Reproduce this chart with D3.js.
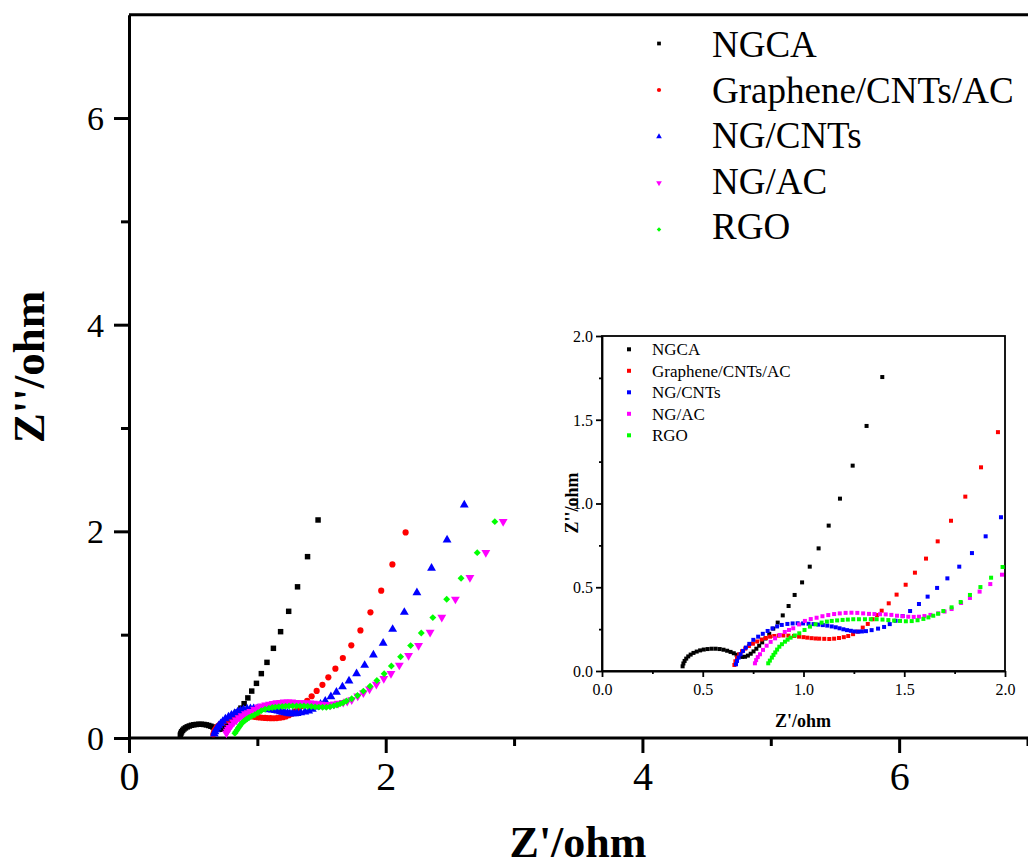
<!DOCTYPE html>
<html><head><meta charset="utf-8">
<script src="https://cdn.jsdelivr.net/npm/d3@7"></script>
<style>
body{margin:0;background:#fff}
text{font-family:"Liberation Serif","Times New Roman",serif;fill:#000}
</style>
</head><body>
<svg id="chart" width="1028" height="866"></svg>
<script>
// ---------- data ----------
const seriesNames  = ["NGCA","Graphene/CNTs/AC","NG/CNTs","NG/AC","RGO"];
const seriesColors = ["#000000","#ff0000","#0000ff","#ff00ff","#00ff00"];
const seriesShapes = ["square","circle","triangle","triangleDown","diamond"];

const ngca = [[0.400,0.028],[0.404,0.045],[0.410,0.060],[0.418,0.074],[0.428,0.087],[0.440,0.098],[0.454,0.108],[0.470,0.116],[0.487,0.123],[0.505,0.128],[0.524,0.131],[0.544,0.133],[0.564,0.133],[0.584,0.131],[0.603,0.127],[0.621,0.121],[0.638,0.114],[0.654,0.106],[0.668,0.097],[0.682,0.089],[0.696,0.084],[0.710,0.085],[0.724,0.092],[0.738,0.103],[0.752,0.117],[0.766,0.133],[0.780,0.151],[0.795,0.171],[0.811,0.194],[0.830,0.222],[0.850,0.253],[0.872,0.289],[0.897,0.332],[0.926,0.388],[0.956,0.454],[0.993,0.529],[1.031,0.623],[1.075,0.732],[1.125,0.868],[1.181,1.029],[1.244,1.226],[1.313,1.463],[1.391,1.755],[1.473,2.110]];

const grapheneCntsAc = [[0.657,0.036],[0.662,0.058],[0.670,0.080],[0.681,0.100],[0.695,0.118],[0.711,0.134],[0.729,0.149],[0.749,0.163],[0.770,0.176],[0.792,0.188],[0.813,0.197],[0.834,0.205],[0.855,0.209],[0.877,0.211],[0.900,0.212],[0.925,0.211],[0.953,0.209],[0.978,0.205],[1.000,0.202],[1.019,0.199],[1.040,0.196],[1.060,0.194],[1.078,0.193],[1.103,0.192],[1.128,0.191],[1.152,0.193],[1.176,0.197],[1.200,0.202],[1.222,0.209],[1.246,0.220],[1.269,0.235],[1.294,0.259],[1.319,0.281],[1.343,0.309],[1.365,0.334],[1.388,0.360],[1.423,0.404],[1.462,0.456],[1.507,0.515],[1.553,0.587],[1.608,0.671],[1.666,0.774],[1.732,0.897],[1.803,1.041],[1.881,1.216],[1.965,1.426],[2.052,1.680],[2.155,1.990]];

const ngCnts = [[0.665,0.040],[0.670,0.060],[0.678,0.080],[0.688,0.100],[0.700,0.120],[0.714,0.140],[0.731,0.162],[0.751,0.186],[0.775,0.205],[0.798,0.222],[0.822,0.239],[0.846,0.254],[0.869,0.266],[0.892,0.275],[0.920,0.281],[0.946,0.284],[0.971,0.285],[0.998,0.284],[1.025,0.282],[1.050,0.280],[1.074,0.277],[1.096,0.274],[1.118,0.271],[1.140,0.266],[1.160,0.261],[1.179,0.255],[1.198,0.249],[1.216,0.244],[1.235,0.240],[1.253,0.236],[1.272,0.235],[1.290,0.236],[1.310,0.238],[1.338,0.244],[1.370,0.253],[1.400,0.263],[1.428,0.280],[1.457,0.300],[1.492,0.328],[1.529,0.358],[1.573,0.400],[1.616,0.444],[1.663,0.496],[1.714,0.553],[1.773,0.623],[1.836,0.704],[1.904,0.804],[1.980,0.918],[2.054,1.052],[2.145,1.217],[2.243,1.407],[2.357,1.643],[2.478,1.917],[2.612,2.256]];

const ngAc = [[0.759,0.046],[0.765,0.065],[0.773,0.083],[0.784,0.100],[0.799,0.126],[0.817,0.151],[0.837,0.174],[0.859,0.195],[0.882,0.215],[0.907,0.233],[0.928,0.245],[0.949,0.255],[0.978,0.278],[1.007,0.299],[1.036,0.310],[1.065,0.318],[1.094,0.327],[1.123,0.334],[1.152,0.340],[1.180,0.344],[1.209,0.347],[1.238,0.348],[1.267,0.347],[1.296,0.344],[1.325,0.341],[1.352,0.340],[1.380,0.339],[1.408,0.338],[1.436,0.335],[1.464,0.330],[1.492,0.327],[1.520,0.324],[1.547,0.323],[1.573,0.324],[1.600,0.328],[1.630,0.335],[1.669,0.344],[1.700,0.355],[1.735,0.370],[1.782,0.406],[1.826,0.436],[1.874,0.474],[1.927,0.519],[1.985,0.575],[2.041,0.623],[2.106,0.704],[2.178,0.797],[2.256,0.894],[2.346,1.023],[2.437,1.168],[2.543,1.343],[2.656,1.552],[2.780,1.794],[2.915,2.094]];

const rgo = [[0.825,0.046],[0.833,0.062],[0.843,0.080],[0.851,0.096],[0.860,0.111],[0.869,0.128],[0.880,0.145],[0.893,0.160],[0.908,0.175],[0.921,0.187],[0.936,0.199],[0.957,0.212],[0.979,0.225],[1.005,0.245],[1.032,0.265],[1.060,0.279],[1.090,0.289],[1.116,0.295],[1.140,0.299],[1.167,0.302],[1.194,0.305],[1.220,0.307],[1.247,0.309],[1.275,0.309],[1.305,0.309],[1.334,0.309],[1.363,0.309],[1.392,0.307],[1.421,0.304],[1.450,0.301],[1.479,0.299],[1.508,0.297],[1.537,0.298],[1.566,0.303],[1.595,0.311],[1.620,0.320],[1.644,0.330],[1.668,0.342],[1.694,0.358],[1.735,0.380],[1.780,0.412],[1.826,0.454],[1.878,0.501],[1.931,0.557],[1.988,0.621],[2.044,0.697],[2.116,0.787],[2.194,0.894],[2.277,1.016],[2.367,1.165],[2.475,1.343],[2.587,1.546],[2.713,1.794],[2.850,2.094]];

const seriesData = [ngca, grapheneCntsAc, ngCnts, ngAc, rgo];

const mainTicks  = [0,2,4,6];
const mainXMinor = [1,3,5,7];
const mainYMinor = [1,3,5];
const insetTicks = [0,0.5,1.0,1.5,2.0];
const insetMinor = [0.25,0.75,1.25,1.75];
const mainXTitle = "Z'/ohm", mainYTitle = "Z''/ohm";

// ---------- helpers ----------
const svg = d3.select("#chart");
function symbolPath(shape, size){
  if (shape==="circle") return d3.symbol(d3.symbolCircle, size)();
  if (shape==="triangle" || shape==="triangleDown") return d3.symbol(d3.symbolTriangle, size)();
  return d3.symbol(d3.symbolSquare, size)();
}
function symbolRot(shape){
  if (shape==="triangleDown") return " rotate(180)";
  if (shape==="diamond") return " rotate(45)";
  return "";
}
function styleAxis(g, w){
  g.select(".domain").attr("stroke","#000").attr("stroke-width",w);
  g.selectAll(".tick line").attr("stroke","#000").attr("stroke-width",w);
  g.selectAll("text").attr("fill","#000").attr("font-family","Liberation Serif, serif");
}

// ---------- main plot ----------
const x = d3.scaleLinear().domain([0,7]).range([129,1027.5]);
const y = d3.scaleLinear().domain([0,7]).range([738,14.7]);

// top frame line
svg.append("line").attr("x1",x(0)).attr("x2",1030).attr("y1",y(7)).attr("y2",y(7))
  .attr("stroke","#000").attr("stroke-width",3);

// minor ticks
svg.append("g").attr("transform",`translate(0,${y(0)})`)
  .call(d3.axisBottom(x).tickValues(mainXMinor).tickSize(8).tickFormat(""))
  .call(g=>{styleAxis(g,3); g.select(".domain").remove();});
svg.append("g").attr("transform",`translate(${x(0)},0)`)
  .call(d3.axisLeft(y).tickValues(mainYMinor).tickSize(8).tickFormat(""))
  .call(g=>{styleAxis(g,3); g.select(".domain").remove();});

const xAxis = svg.append("g").attr("transform",`translate(0,${y(0)})`)
  .call(d3.axisBottom(x).tickValues(mainTicks).tickSize(15).tickSizeOuter(0).tickPadding(10).tickFormat(d3.format("d")))
  .call(g=>styleAxis(g,3));
xAxis.select(".domain").attr("d",`M${x(0)},0H1030`);
xAxis.selectAll("text").attr("font-size",40).attr("dy","0.68em");

const yAxis = svg.append("g").attr("transform",`translate(${x(0)},0)`)
  .call(d3.axisLeft(y).tickValues(mainTicks).tickSize(15).tickSizeOuter(0).tickPadding(10).tickFormat(d3.format("d")))
  .call(g=>styleAxis(g,3));
yAxis.selectAll("text").attr("font-size",34).attr("dy","0.34em");

// axis titles
svg.append("text").attr("x",578).attr("y",857).attr("text-anchor","middle")
  .attr("font-size",44).attr("font-weight","bold").text(mainXTitle);
svg.append("text").attr("transform","translate(44,367) rotate(-90)").attr("text-anchor","middle")
  .attr("font-size",45).attr("font-weight","bold").text(mainYTitle);

// data points
seriesData.forEach((data,i)=>{
  const shape = seriesShapes[i];
  const size = shape==="diamond" ? 24 : (shape==="circle" ? 30 : (shape==="square"?30:34));
  svg.append("g").selectAll("path").data(data).join("path")
    .attr("d", symbolPath(shape,size))
    .attr("transform", d=>`translate(${x(d[0])},${y(d[1])})${symbolRot(shape)}`)
    .attr("fill", seriesColors[i]);
});

// main legend
const leg = svg.append("g");
seriesNames.forEach((name,i)=>{
  const shape = seriesShapes[i];
  leg.append("path").attr("d", symbolPath(shape, shape==="diamond"?10:14))
    .attr("transform",`translate(659,${43.5+46.5*i})${symbolRot(shape)}`)
    .attr("fill",seriesColors[i]);
  leg.append("text").attr("x",712).attr("y",57+45.5*i).attr("font-size",37).text(name);
});

// ---------- inset ----------
const ix = d3.scaleLinear().domain([0,2]).range([602,1005]);
const iy = d3.scaleLinear().domain([0,2]).range([671,336]);

svg.append("rect").attr("x",ix(0)).attr("y",iy(2)).attr("width",ix(2)-ix(0)).attr("height",iy(0)-iy(2))
  .attr("fill","#fff").attr("stroke","#000").attr("stroke-width",1.8);

svg.append("g").attr("transform",`translate(0,${iy(0)})`)
  .call(d3.axisBottom(ix).tickValues(insetMinor).tickSize(3).tickFormat(""))
  .call(g=>{styleAxis(g,1.8); g.select(".domain").remove();});
svg.append("g").attr("transform",`translate(${ix(0)},0)`)
  .call(d3.axisLeft(iy).tickValues(insetMinor).tickSize(3).tickFormat(""))
  .call(g=>{styleAxis(g,1.8); g.select(".domain").remove();});

const ixAxis = svg.append("g").attr("transform",`translate(0,${iy(0)})`)
  .call(d3.axisBottom(ix).tickValues(insetTicks).tickSize(6).tickSizeOuter(0).tickPadding(6).tickFormat(d3.format(".1f")))
  .call(g=>styleAxis(g,1.8));
ixAxis.selectAll("text").attr("font-size",16).attr("dy","0.72em");
const iyAxis = svg.append("g").attr("transform",`translate(${ix(0)},0)`)
  .call(d3.axisLeft(iy).tickValues(insetTicks).tickSize(6).tickSizeOuter(0).tickPadding(3).tickFormat(d3.format(".1f")))
  .call(g=>styleAxis(g,1.8));
iyAxis.selectAll("text").attr("font-size",16).attr("dy","0.34em");

svg.append("text").attr("x",803).attr("y",727).attr("text-anchor","middle")
  .attr("font-size",18).attr("font-weight","bold").text(mainXTitle);
svg.append("text").attr("transform","translate(578,503) rotate(-90)").attr("text-anchor","middle")
  .attr("font-size",18).attr("font-weight","bold").text(mainYTitle);

seriesData.forEach((data,i)=>{
  svg.append("g").selectAll("rect")
    .data(data.filter(d=>d[0]<=2 && d[1]<=2)).join("rect")
    .attr("x",d=>ix(d[0])-2).attr("y",d=>iy(d[1])-2).attr("width",4).attr("height",4)
    .attr("fill",seriesColors[i]);
});

seriesNames.forEach((name,i)=>{
  svg.append("rect").attr("x",629-2).attr("y",349.3+21.5*i-2).attr("width",4).attr("height",4)
    .attr("fill",seriesColors[i]);
  svg.append("text").attr("x",652).attr("y",355+21.5*i).attr("font-size",17).text(name);
});
</script>
</body></html>
